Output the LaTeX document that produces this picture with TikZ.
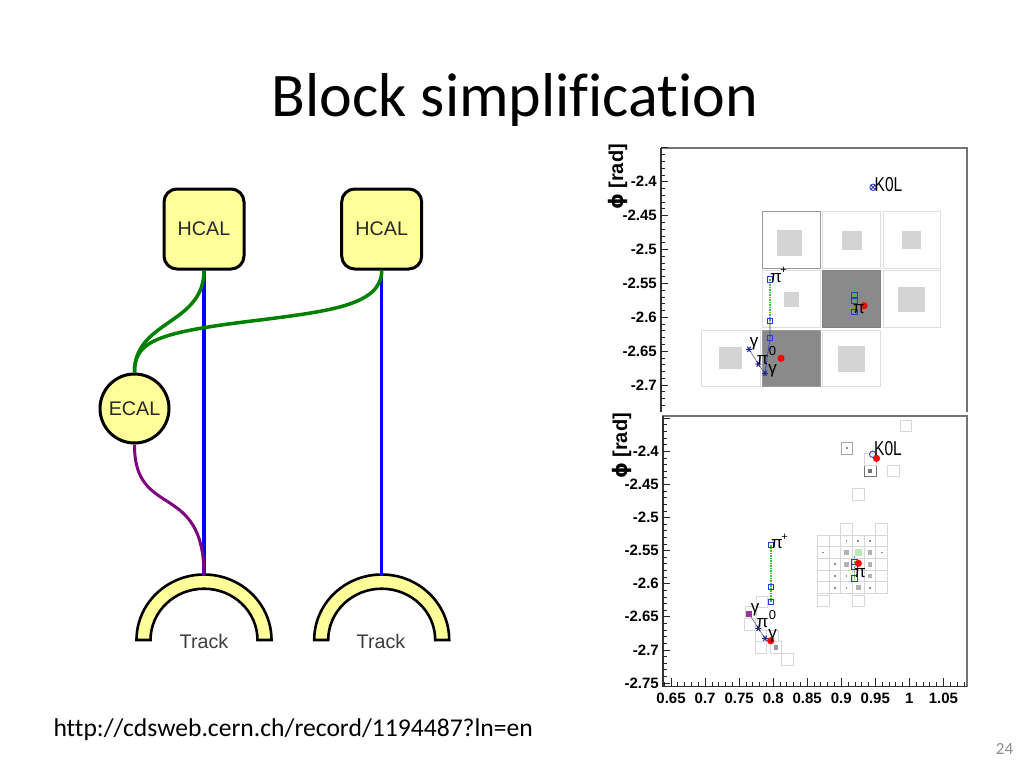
\documentclass[tikz,border=0pt]{standalone}
\usepackage{fontspec}
\setmainfont{Carlito}[RawFeature={-liga}]
\newfontfamily\helv{Liberation Sans}
\newfontfamily\dvs{DejaVu Sans}
\definecolor{yel}{RGB}{255,255,153}
\definecolor{txt}{RGB}{40,40,40}
\definecolor{dgreen}{RGB}{0,128,0}
\definecolor{purp}{RGB}{128,0,128}
\definecolor{darkcell}{RGB}{138,138,138}
\definecolor{innergray}{RGB}{212,212,212}
\definecolor{cellline}{RGB}{215,215,215}
\definecolor{mblue}{RGB}{40,60,200}
\definecolor{lgreen}{RGB}{60,190,60}
\newcommand\bsqr[2]{\draw[bsqs] ({#1-2.6},{#2-2.6}) rectangle ({#1+2.6},{#2+2.6});}
\newcommand\rdot[2]{\fill[red] (#1,#2) circle (3.6);}
\newcommand\gstarm[2]{\draw[gst] ({#1-3},#2) -- ({#1+3},#2) ({#1-1.6},{#2-2.7}) -- ({#1+1.6},{#2+2.7}) ({#1-1.6},{#2+2.7}) -- ({#1+1.6},{#2-2.7});}
\newcommand\pcell[2]{\draw[cl] (#1,#2) rectangle ++(11.7,11.7);}
\begin{document}
\begin{tikzpicture}[x=1pt,y=-1pt,
  blk/.style={draw, line width=3pt, fill=yel, rounded corners=13pt, minimum width=80pt, minimum height=80pt, inner sep=0pt, font=\helv\fontsize{19.7}{20}\selectfont, text=txt},
  ecalnode/.style={draw, line width=3pt, fill=yel, circle, minimum size=69pt, inner sep=0pt, font=\helv\fontsize{19.7}{20}\selectfont, text=txt},
  trkshape/.style={draw, line width=2.6pt, fill=yel, line join=miter},
  trklbl/.style={inner sep=0pt, font=\helv\fontsize{19.7}{20}\selectfont, text=txt!90},
  gline/.style={draw=dgreen, line width=3.5pt},
  bline/.style={draw=blue, line width=3.5pt},
  pline/.style={draw=purp, line width=3pt},
  ylab/.style={anchor=east, inner sep=0pt, font=\helv\bfseries\fontsize{15}{15}\selectfont},
  xlab/.style={anchor=base, inner sep=0pt, font=\helv\bfseries\fontsize{15}{15}\selectfont},
  axtitle/.style={rotate=90, inner sep=0pt, font=\helv\bfseries\fontsize{20}{20}\selectfont},
  plbl/.style={inner sep=0pt, font=\helv\fontsize{17}{17}\selectfont},
  k0l/.style={inner sep=0pt, yscale=1.3, font=\helv\fontsize{15.5}{15.5}\selectfont},
  supl/.style={inner sep=0pt, font=\helv\fontsize{11}{11}\selectfont},
  tick/.style={draw=black!85, line width=0.7pt},
  frameblk/.style={draw=black!80, line width=1.1pt},
  framegry/.style={draw=black!55, line width=1.1pt},
  cl/.style={draw=cellline, line width=0.8pt},
  bigcl/.style={draw=black!13, line width=0.9pt, fill=white},
  bsqs/.style={draw=mblue, line width=0.8pt},
  gst/.style={draw=mblue!70!black, line width=1pt},
  trackline/.style={draw=lgreen, line width=1.1pt, dash pattern=on 1.5pt off 1pt},
  thinline/.style={draw=black!60, line width=0.6pt}
]
\useasboundingbox (0,0) rectangle (1024,768);
\fill[white] (0,0) rectangle (1024,768);

% ---------- texts ----------
\node[anchor=base, inner sep=0pt, font=\fontsize{62}{70}\selectfont] (title) at (515,116.7) {Block simplification};
\node[anchor=base west, inner sep=0pt, font=\fontsize{25.6}{30}\selectfont] (url) at (53.3,736.7) {http://cdsweb.cern.ch/record/1194487?ln=en};
\node[anchor=base east, inner sep=0pt, text=black!45, font=\fontsize{17}{20}\selectfont] (pg) at (1013.3,754) {24};

% ---------- left block diagram ----------
\draw[trkshape] ({204-67.5},640) arc[start angle=180,end angle=360,x radius=67.5,y radius=65.5] -- ({204+53.5},640) arc[start angle=0,end angle=-180,x radius=53.5,y radius=51.3] -- cycle;
\draw[trkshape] ({381.7-67.5},640) arc[start angle=180,end angle=360,x radius=67.5,y radius=65.5] -- ({381.7+53.5},640) arc[start angle=0,end angle=-180,x radius=53.5,y radius=51.3] -- cycle;
\coordinate (trk1top) at (204,575.5);
\coordinate (trk2top) at (381.7,575.5);
\node[trklbl] (trk1) at (204,641) {Track};
\node[trklbl] (trk2) at (381,641) {Track};

\node[blk] (hcal1) at (204,229) {HCAL};
\node[blk] (hcal2) at (381.7,229) {HCAL};
\node[ecalnode] (ecal) at (134.5,408.5) {ECAL};

\draw[bline] (hcal1.south) -- (trk1top);
\draw[bline] (hcal2.south) -- (trk2top);
\draw[gline] (hcal1.south) .. controls (204,325) and (134,320) .. (ecal.north);
\draw[gline] (hcal2.south) .. controls (381.7,305) and (330,311) .. (260,320) .. controls (160,332) and (134,340) .. (ecal.north);
\draw[pline] (ecal.south) .. controls (134,520) and (204,480) .. (trk1top);

% ---------- top plot ----------
% cells
\draw[bigcl, draw=black!40] (762.3,211.7) rectangle (820,268.3);
\fill[innergray] (776.7,230) rectangle (801.7,256);
\draw[bigcl] (822.7,211.7) rectangle (880,268.3);
\fill[innergray] (841.7,230.7) rectangle (861.7,250);
\draw[bigcl] (883.3,211.7) rectangle (940,268.3);
\fill[innergray] (902.3,231) rectangle (921,249.3);
\draw[bigcl] (762.3,270.7) rectangle (820,327.7);
\fill[innergray] (784,292) rectangle (798.7,306.7);
\draw[bigcl, fill=darkcell, draw=black!50] (822.7,270.7) rectangle (880,327.7);
\draw[bigcl] (883.3,270.7) rectangle (940,327.7);
\fill[innergray] (898.3,286.7) rectangle (925,312.3);
\draw[bigcl] (701.7,330) rectangle (760,386.7);
\fill[innergray] (719.3,347.3) rectangle (742.3,369.3);
\draw[bigcl, fill=darkcell, draw=black!40] (762.3,330) rectangle (820,386.7);
\draw[bigcl] (822.7,330) rectangle (880,386.7);
\fill[innergray] (837.7,345.7) rectangle (865,371.7);
% frame
\draw[framegry] (661,148) -- (967,148) -- (967,412);
\draw[frameblk] (661,148) -- (661,412);
\foreach \i in {0,...,38}{
  \pgfmathsetmacro\yy{147.8+6.778*\i}
  \pgfmathsetmacro\tl{ifthenelse(mod(\i,5)==0,7,3.5)}
  \draw[tick] (661,\yy) -- ++(\tl,0);
}
\foreach \v/\yy [count=\n] in {-2.4/181.7,-2.45/215.6,-2.5/249.5,-2.55/283.4,-2.6/317.3,-2.65/351.2,-2.7/385.0}
  \node[ylab] (ty\n) at (657,\yy) {\v};
\node[axtitle] (tyt) at (617.5,177) {{\dvs\bfseries ϕ} [rad]};
% markers
\draw[mblue, line width=0.9pt] (873,187.3) circle (3.2) (870.8,185.1) -- (875.2,189.5) (870.8,189.5) -- (875.2,185.1);
\node[k0l, anchor=west] (tk0l) at (874.5,184.5) {K0L};
\draw[trackline] (770,279.3) -- (770,321);
\draw[thinline, draw=mblue] (770,321) -- (770,338) -- (765,373.3);
\bsqr{770}{279.3}\bsqr{770}{321}\bsqr{770}{337.7}
\node[plbl] (tpip) at (776,278.5) {π};
\node[supl] (tpipp) at (783.5,270) {+};
\draw[trackline] (854.3,283.3) -- (854.3,313);
\bsqr{854.3}{295}\bsqr{854.3}{300.5}\bsqr{854.3}{311.7}
\rdot{864}{305.7}
\node[plbl] (tpim) at (859,309) {π};
\draw[thinline] (749,349.3) -- (758.3,364) -- (765,373.3);
\gstarm{749}{349.3}\gstarm{758.3}{364}\gstarm{765}{373.3}
\rdot{781}{358.3}
\node[plbl] (tg1) at (754,344) {γ};
\node[plbl] (tpi0) at (762.5,360) {π};
\node[inner sep=0pt, font=\helv\fontsize{13}{13}\selectfont] (tpi0s) at (772.5,351.5) {0};
\node[plbl] (tg2) at (772.5,371) {γ};

% ---------- bottom plot ----------
% cluster cells
\foreach \c in {3,6} \pcell{{805.6+11.7*\c}}{{511.6+11.7}};
\foreach \r in {2,...,6}{\foreach \c in {1,...,6}{\pcell{{805.6+11.7*\c}}{{511.6+11.7*\r}}}}
\pcell{817.3}{595}\pcell{852.4}{595}
\foreach \c/\r in {3/2,4/2,5/2,2/4,2/5,3/5,2/6,3/6,5/6,6/3,1/3}
  \fill[black!45] ({805.6+11.7*\c+5.85-0.9},{511.6+11.7*\r+5.85-0.9}) rectangle ++(1.8,1.8);
\foreach \c/\r in {3/3,5/3,3/4,5/4,5/5,4/6}
  \fill[black!30] ({805.6+11.7*\c+5.85-2.3},{511.6+11.7*\r+5.85-2.3}) rectangle ++(4.6,4.6);
\fill[lgreen!35] (852.4+2.5,546.7+2.5) rectangle ++(6.7,6.7);
% isolated cells
\pcell{900}{420}
\draw[cl, draw=black!35] (841,442.3) rectangle ++(11.7,11.7);
\fill[black!45] (846,447.3) rectangle ++(1.8,1.8);
\draw[cl, draw=black!55] (864.3,465) rectangle ++(11.7,11.7);
\fill[black!55] (868.1,468.8) rectangle ++(4,4);
\pcell{887.7}{465}\pcell{864.3}{453.3}
\pcell{852.7}{488.3}
% left group cells
\pcell{756}{596}\pcell{745}{606.7}\pcell{744}{618.3}\pcell{755}{630}\pcell{766.7}{630}
\pcell{755}{641.7}\pcell{770}{641.7}\pcell{781.7}{653.3}
\fill[black!40] (773.6,645.3) rectangle ++(4.4,4.4);
% frame
\draw[framegry] (663,686.7) -- (663,416) -- (967,416) -- (967,686.7);
\draw[frameblk] (663,416) -- (663,686.7) -- (967,686.7);
\foreach \i in {0,...,40}{
  \pgfmathsetmacro\yy{683-6.62*\i}
  \pgfmathsetmacro\tl{ifthenelse(mod(\i,5)==0,7,3.5)}
  \draw[tick] (663,\yy) -- ++(\tl,0);
}
\foreach \i in {0,...,44}{
  \pgfmathsetmacro\xx{664.2+6.81*\i}
  \pgfmathsetmacro\tl{ifthenelse(mod(\i+4,5)==0,9,4.5)}
  \draw[tick] (\xx,686.7) -- ++(0,-\tl);
}
\foreach \v/\yy [count=\n] in {-2.4/451.3,-2.45/484.4,-2.5/517.5,-2.55/550.6,-2.6/583.7,-2.65/616.8,-2.7/649.9,-2.75/683}
  \node[ylab] (by\n) at (659,\yy) {\v};
\foreach \v/\xx [count=\n] in {0.65/671,0.7/705.1,0.75/739.1,0.8/773.2,0.85/807.2,0.9/841.3,0.95/875.3,1/909.4,1.05/943.4}
  \node[xlab] (bx\n) at (\xx,703) {\v};
\node[axtitle] (byt) at (621.5,446) {{\dvs\bfseries ϕ} [rad]};
% markers
\draw[mblue, line width=0.9pt] (872.7,454.3) circle (3.2);
\rdot{876.5}{458.3}
\node[k0l, anchor=west] (bk0l) at (874,449) {K0L};
\draw[trackline] (771,545) -- (771,602);
\bsqr{771}{545}\bsqr{771}{586.7}\bsqr{771}{602}
\node[plbl] (bpip) at (777,544) {π};
\node[supl] (bpipp) at (784.5,537) {+};
\draw[trackline] (854.3,556) -- (854.3,580);
\bsqr{854.3}{561.7}\bsqr{854.3}{566.7}\bsqr{854.3}{578.3}
\rdot{858.3}{563.3}
\node[plbl] (bpim) at (860,573) {π};
\draw[thinline] (749.3,614) -- (758.3,628.3) -- (765,638.3);
\fill[purp!80] (746.3,611) rectangle ++(6,6);
\gstarm{758.3}{628.3}\gstarm{765}{638.3}
\rdot{770.7}{640.7}
\node[plbl] (bg1) at (755,609.5) {γ};
\node[plbl] (bpi0) at (762.5,623) {π};
\node[inner sep=0pt, font=\helv\fontsize{13}{13}\selectfont] (bpi0s) at (772.5,615.5) {0};
\node[plbl] (bg2) at (772.5,636) {γ};
\end{tikzpicture}
\end{document}
